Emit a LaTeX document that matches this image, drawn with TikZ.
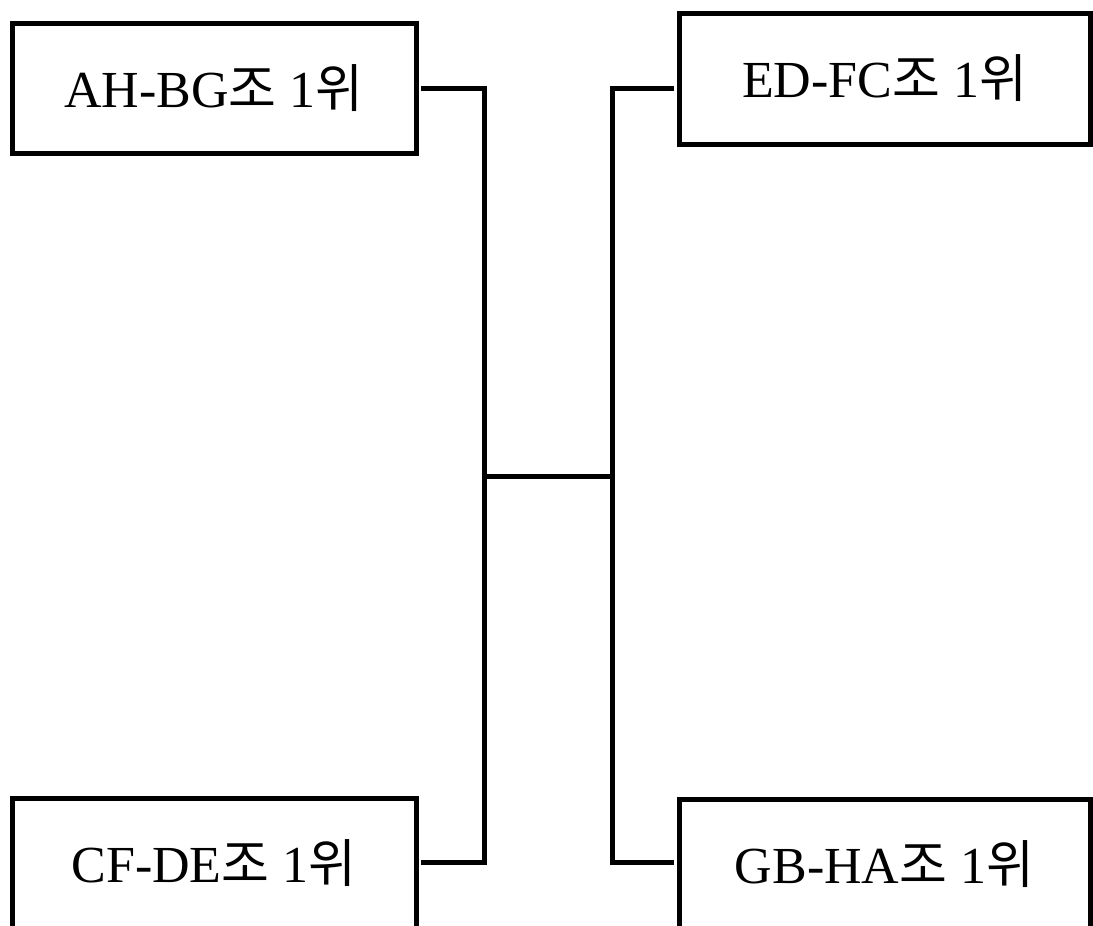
\documentclass[tikz,border=0pt]{standalone}
\usepackage{fontspec}
\setmainfont{Liberation Serif}
\newfontfamily\kr{Noto Sans CJK KR}
\newcommand{\teamlabel}[1]{#1{\kr 조} 1{\kr 위}}
\begin{document}
\begin{tikzpicture}[x=1pt,y=-1pt,
  teambox/.style={draw=black, line width=5pt, rectangle, inner sep=0pt,
    font=\fontsize{52}{60}\selectfont},
  link/.style={draw=black, line width=5pt, line cap=rect}]
\useasboundingbox (0,0) rectangle (1093,926);
\clip (0,0) rectangle (1093,926);
\fill[white] (0,0) rectangle (1093,926);
\node[teambox, minimum width=404pt, minimum height=130pt] (ah) at (214,88) {\teamlabel{AH-BG}};
\node[teambox, minimum width=411pt, minimum height=131pt] (ed) at (884.5,78.5) {\teamlabel{ED-FC}};
\node[teambox, minimum width=404pt, minimum height=130pt] (cf) at (214,863) {\teamlabel{CF-DE}};
\node[teambox, minimum width=411pt, minimum height=130pt] (gb) at (884.5,864) {\teamlabel{GB-HA}};
\coordinate (lv) at (484,476);
\coordinate (rv) at (612,476);
\draw[link] ([xshift=5pt]ah.east |- 0,88) -| (lv) |- ([xshift=5pt]cf.east |- 0,862);
\draw[link] ([xshift=-5pt]ed.west |- 0,88) -| (rv) |- ([xshift=-5pt]gb.west |- 0,862);
\draw[link] (lv) -- (rv);
\end{tikzpicture}
\end{document}
